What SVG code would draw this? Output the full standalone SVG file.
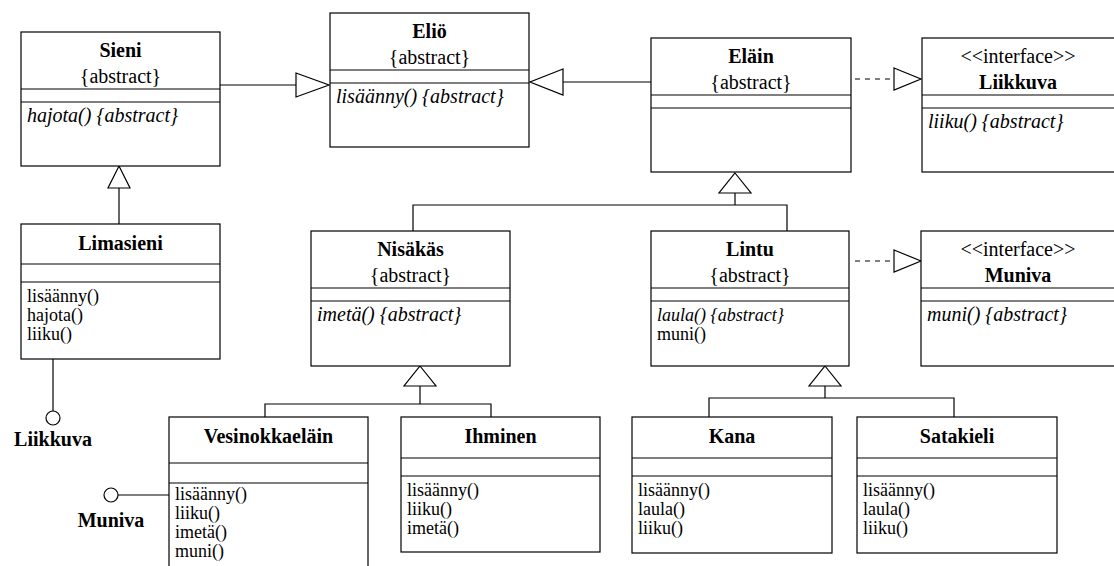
<svg xmlns="http://www.w3.org/2000/svg" width="1114" height="566" viewBox="0 0 1114 566">
<style>
rect.box{fill:#fff;stroke:#000;stroke-width:1.2}
line.sep,.conn line,.conn polyline{stroke:#000;stroke-width:1.2;fill:none}
.tri{fill:#fff;stroke:#000;stroke-width:1.2}
.dash{stroke-dasharray:5 5}
text{font-family:'Liberation Serif','Times New Roman',serif;font-size:20px;fill:#000}
text.m{font-size:18px}
text.t{font-weight:bold;text-anchor:middle}
text.c{text-anchor:middle}
text.i{font-style:italic}
</style>
<rect width="1114" height="566" fill="#fff"/>
<g id="connectors" class="conn">
  <line x1="220" y1="85" x2="296" y2="85"/>
  <polygon class="tri" points="296,73 329,85 296,97"/>
  <line x1="563" y1="82" x2="651" y2="82"/>
  <polygon class="tri" points="563,69 530,82 563,95"/>
  <line class="dash" x1="855" y1="79" x2="894" y2="79"/>
  <polygon class="tri" points="894,68 921,79 894,90"/>
  <line class="dash" x1="855" y1="261" x2="894" y2="261"/>
  <polygon class="tri" points="894,250 921,261 894,272"/>
  <line x1="119" y1="188" x2="119" y2="224"/>
  <polygon class="tri" points="119,166 130,188 108,188"/>
  <polyline points="413,231 413,205 787,205 787,231"/>
  <line x1="735" y1="193" x2="735" y2="205"/>
  <polygon class="tri" points="735,173 751,193 719,193"/>
  <polyline points="265,417 265,404 491,404 491,417"/>
  <line x1="420" y1="386" x2="420" y2="404"/>
  <polygon class="tri" points="420,366 436,386 404,386"/>
  <polyline points="709,417 709,398 954,398 954,417"/>
  <line x1="825" y1="386" x2="825" y2="398"/>
  <polygon class="tri" points="825,366 841,386 809,386"/>
  <line x1="53" y1="359" x2="53" y2="411"/>
  <circle cx="53" cy="418" r="7" fill="#fff" stroke="#000" stroke-width="1.2"/>
  <line x1="118" y1="495" x2="169" y2="495"/>
  <circle cx="111" cy="495" r="7" fill="#fff" stroke="#000" stroke-width="1.2"/>
</g>
<g id="lollipop-labels">
  <text class="t" x="53" y="446">Liikkuva</text>
  <text class="t" x="111" y="527">Muniva</text>
</g>
<g id="Sieni">
  <rect class="box" x="21" y="32" width="199" height="134"/>
  <line class="sep" x1="21" y1="89" x2="220" y2="89"/>
  <line class="sep" x1="21" y1="102" x2="220" y2="102"/>
  <text class="t" x="120.5" y="57">Sieni</text>
  <text class="c" x="120.5" y="83">{abstract}</text>
  <text class="i" x="27" y="122">hajota() {abstract}</text>
</g>
<g id="Elio">
  <rect class="box" x="330" y="13" width="199" height="134"/>
  <line class="sep" x1="330" y1="70" x2="529" y2="70"/>
  <line class="sep" x1="330" y1="83" x2="529" y2="83"/>
  <text class="t" x="429.5" y="38">Eliö</text>
  <text class="c" x="429.5" y="64">{abstract}</text>
  <text class="i" x="336" y="103">lisäänny() {abstract}</text>
</g>
<g id="Elain">
  <rect class="box" x="651" y="38" width="200" height="134"/>
  <line class="sep" x1="651" y1="95" x2="851" y2="95"/>
  <line class="sep" x1="651" y1="108" x2="851" y2="108"/>
  <text class="t" x="751" y="63">Eläin</text>
  <text class="c" x="751" y="89">{abstract}</text>
</g>
<g id="Liikkuva">
  <rect class="box" x="922" y="38" width="210" height="134"/>
  <line class="sep" x1="922" y1="95" x2="1120" y2="95"/>
  <line class="sep" x1="922" y1="108" x2="1120" y2="108"/>
  <text class="c" x="1018" y="63">&lt;&lt;interface&gt;&gt;</text>
  <text class="t" x="1018" y="89">Liikkuva</text>
  <text class="i" x="928" y="128">liiku() {abstract}</text>
</g>
<g id="Limasieni">
  <rect class="box" x="21" y="224" width="199" height="135"/>
  <line class="sep" x1="21" y1="264" x2="220" y2="264"/>
  <line class="sep" x1="21" y1="282" x2="220" y2="282"/>
  <text class="t" x="120.5" y="250">Limasieni</text>
  <text class="m" x="27" y="302">lisäänny()</text>
  <text class="m" x="27" y="321">hajota()</text>
  <text class="m" x="27" y="340">liiku()</text>
</g>
<g id="Nisakas">
  <rect class="box" x="311" y="231" width="199" height="135"/>
  <line class="sep" x1="311" y1="288" x2="510" y2="288"/>
  <line class="sep" x1="311" y1="301" x2="510" y2="301"/>
  <text class="t" x="410.5" y="256">Nisäkäs</text>
  <text class="c" x="410.5" y="282">{abstract}</text>
  <text class="i" x="317" y="321">imetä() {abstract}</text>
</g>
<g id="Lintu">
  <rect class="box" x="651" y="231" width="198" height="135"/>
  <line class="sep" x1="651" y1="288" x2="849" y2="288"/>
  <line class="sep" x1="651" y1="301" x2="849" y2="301"/>
  <text class="t" x="750" y="256">Lintu</text>
  <text class="c" x="750" y="282">{abstract}</text>
  <text class="i m" x="657" y="321">laula() {abstract}</text>
  <text class="m" x="657" y="340">muni()</text>
</g>
<g id="Muniva">
  <rect class="box" x="921" y="231" width="210" height="135"/>
  <line class="sep" x1="921" y1="288" x2="1120" y2="288"/>
  <line class="sep" x1="921" y1="301" x2="1120" y2="301"/>
  <text class="c" x="1018" y="256">&lt;&lt;interface&gt;&gt;</text>
  <text class="t" x="1018" y="282">Muniva</text>
  <text class="i" x="927" y="321">muni() {abstract}</text>
</g>
<g id="Vesinokkaelain">
  <rect class="box" x="169" y="417" width="199" height="170"/>
  <line class="sep" x1="169" y1="463" x2="368" y2="463"/>
  <line class="sep" x1="169" y1="483" x2="368" y2="483"/>
  <text class="t" x="268.5" y="443">Vesinokkaeläin</text>
  <text class="m" x="175" y="500">lisäänny()</text>
  <text class="m" x="175" y="519">liiku()</text>
  <text class="m" x="175" y="538">imetä()</text>
  <text class="m" x="175" y="557">muni()</text>
</g>
<g id="Ihminen">
  <rect class="box" x="401" y="417" width="199" height="135"/>
  <line class="sep" x1="401" y1="458" x2="600" y2="458"/>
  <line class="sep" x1="401" y1="476" x2="600" y2="476"/>
  <text class="t" x="500.5" y="443">Ihminen</text>
  <text class="m" x="407" y="496">lisäänny()</text>
  <text class="m" x="407" y="515">liiku()</text>
  <text class="m" x="407" y="534">imetä()</text>
</g>
<g id="Kana">
  <rect class="box" x="632" y="417" width="200" height="136"/>
  <line class="sep" x1="632" y1="458" x2="832" y2="458"/>
  <line class="sep" x1="632" y1="476" x2="832" y2="476"/>
  <text class="t" x="732" y="443">Kana</text>
  <text class="m" x="638" y="496">lisäänny()</text>
  <text class="m" x="638" y="515">laula()</text>
  <text class="m" x="638" y="534">liiku()</text>
</g>
<g id="Satakieli">
  <rect class="box" x="857" y="417" width="200" height="136"/>
  <line class="sep" x1="857" y1="458" x2="1057" y2="458"/>
  <line class="sep" x1="857" y1="476" x2="1057" y2="476"/>
  <text class="t" x="957" y="443">Satakieli</text>
  <text class="m" x="863" y="496">lisäänny()</text>
  <text class="m" x="863" y="515">laula()</text>
  <text class="m" x="863" y="534">liiku()</text>
</g>
</svg>
